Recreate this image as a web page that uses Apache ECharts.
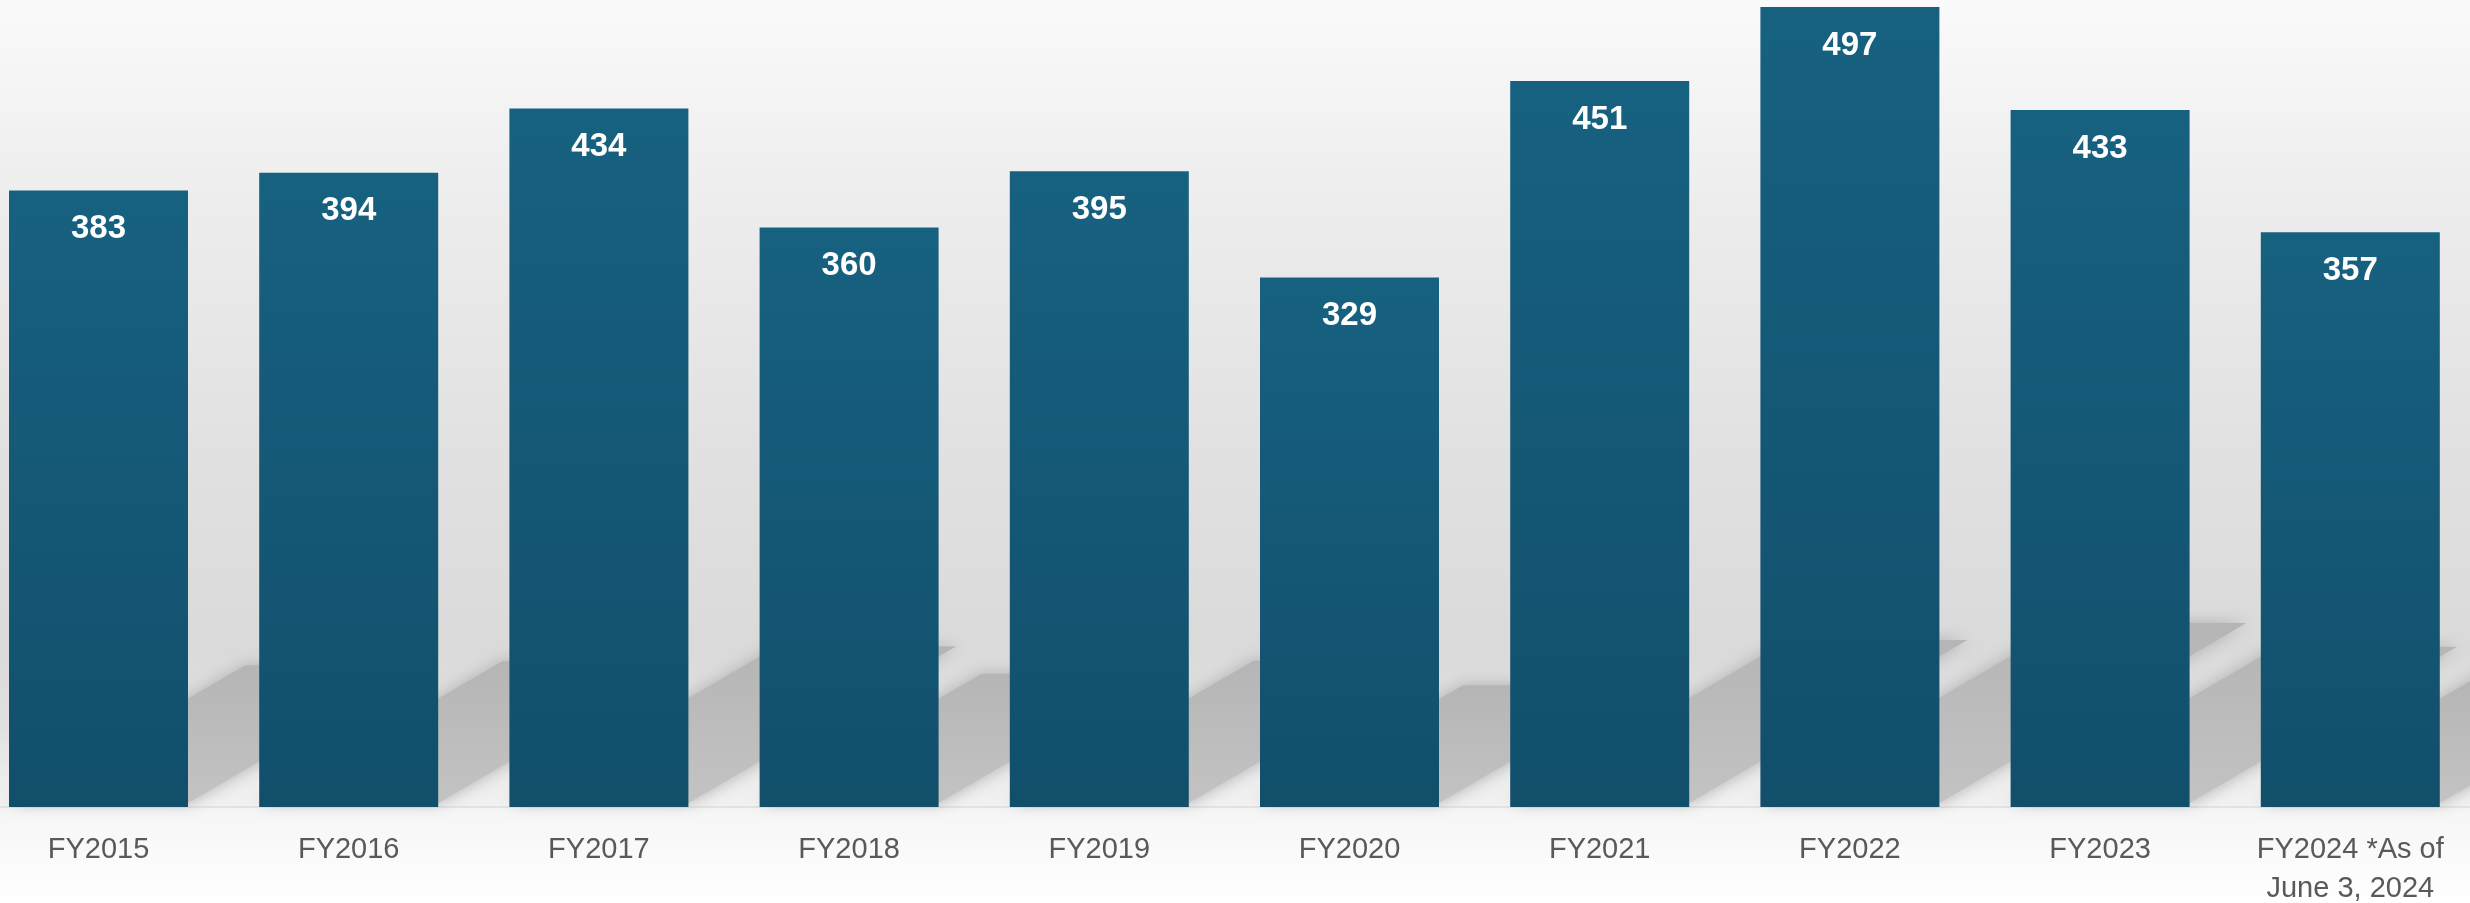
<!DOCTYPE html>
<html>
<head>
<meta charset="utf-8">
<title>FY counts</title>
<script src="https://cdn.jsdelivr.net/npm/echarts@6/dist/echarts.min.js"></script>
<style>
  html, body { margin: 0; padding: 0; }
  #main { width: 2470px; height: 903px; }
</style>
</head>
<body>
<div id="main"></div>
<script>
  // data
  const categories = ['FY2015', 'FY2016', 'FY2017', 'FY2018', 'FY2019', 'FY2020', 'FY2021', 'FY2022', 'FY2023', 'FY2024 *As of\nJune 3, 2024']
  const values = [383, 394, 434, 360, 395, 329, 451, 497, 433, 357]

  const BAR_W = 179

  const chart = echarts.init(document.getElementById('main'))

  // perspective shadow behind each bar, derived from the bar's own coords
  function renderShadow(params, api) {
    const idx = api.value(0)
    const v = api.value(1)
    const base = api.coord([idx, 0])
    const top = api.coord([idx, v])
    const h = (base[1] - top[1]) * 0.23
    const dx = h / 0.6
    const x0 = base[0] - BAR_W / 2
    const x1 = base[0] + BAR_W / 2
    const b = base[1]
    return {
      type: 'polygon',
      shape: {
        points: [[x0, b - 4], [x1, b - 4], [x1 + dx, b - h], [x0 + dx, b - h]],
      },
      style: {
        fill: new echarts.graphic.LinearGradient(0, 0, 0, 1, [
          { offset: 0, color: '#b5b5b5' },
          { offset: 1, color: '#c3c3c3' },
        ]),
        shadowBlur: 16,
        shadowColor: 'rgba(170,170,170,0.9)',
      },
    }
  }

  chart.setOption({
    animation: false,
    backgroundColor: new echarts.graphic.LinearGradient(0, 0, 0, 1, [
      { offset: 0, color: '#fafafa' },
      { offset: 0.22, color: '#ededed' },
      { offset: 0.5, color: '#e1e1e1' },
      { offset: 0.72, color: '#dadada' },
      { offset: 0.8, color: '#e0e0e0' },
      { offset: 0.89, color: '#f1f1f1' },
      { offset: 0.9, color: '#f6f6f6' },
      { offset: 1, color: '#ffffff' },
    ]),
    grid: {
      left: -26.6,
      right: -5.4,
      top: 7,
      bottom: 96,
      outerBoundsMode: 'none',
    },
    xAxis: {
      type: 'category',
      data: categories,
      axisTick: { show: false },
      axisLine: {
        lineStyle: { color: '#e2e2e2', width: 2 },
      },
      axisLabel: {
        interval: 0,
        margin: 23,
        color: '#595959',
        fontSize: 29,
        lineHeight: 39,
        fontFamily: 'Liberation Sans',
      },
    },
    yAxis: {
      type: 'value',
      min: 0,
      max: 497,
      show: false,
      splitLine: { show: false },
    },
    series: [
      {
        type: 'custom',
        z: 1,
        silent: true,
        renderItem: renderShadow,
        data: values.map((v, i) => [i, v]),
      },
      {
        type: 'bar',
        z: 2,
        barWidth: BAR_W,
        itemStyle: {
          color: new echarts.graphic.LinearGradient(0, 0, 0, 1, [
            { offset: 0, color: '#176180' },
            { offset: 1, color: '#114f6b' },
          ]),
        },
        label: {
          show: true,
          position: 'insideTop',
          distance: 22,
          color: '#ffffff',
          fontSize: 33,
          fontWeight: 'bold',
          fontFamily: 'Liberation Sans',
        },
        data: values,
      },
    ],
  })
</script>
</body>
</html>
